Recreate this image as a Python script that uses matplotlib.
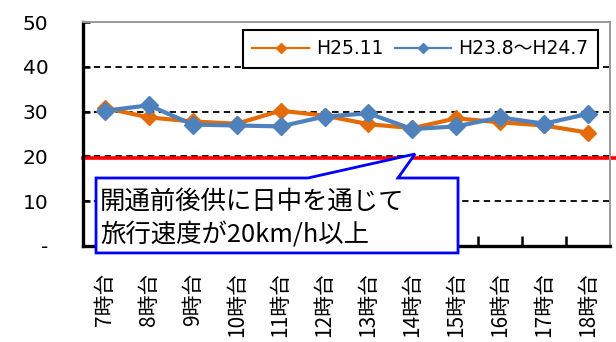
import matplotlib
matplotlib.use("Agg")
import matplotlib.pyplot as plt
from matplotlib.patches import Polygon
from matplotlib.lines import Line2D

# Travel speed (km/h) by hour of day
hours = ["7時台", "8時台", "9時台", "10時台", "11時台", "12時台",
         "13時台", "14時台", "15時台", "16時台", "17時台", "18時台"]
speed_h25 = [30.8, 28.7, 27.8, 27.3, 30.2, 29.1, 27.2, 26.3, 28.5, 27.6, 26.9, 25.3]
speed_h23_24 = [30.2, 31.4, 27.1, 26.9, 26.7, 28.9, 29.6, 26.1, 26.7, 28.7, 27.3, 29.5]
series_names = ["H25.11", "H23.8～H24.7"]
threshold = 19.6
y_ticks = [0, 10, 20, 30, 40, 50]
y_labels = ["-", "10", "20", "30", "40", "50"]
note_lines = ["開通前後供に日中を通じて", "旅行速度が20km/h以上"]

orange = "#E36C09"
blue = "#4F81BD"

fig = plt.figure(figsize=(6.16, 3.42), dpi=100)
ax = fig.add_axes([83 / 616, 1 - 246 / 342, 527 / 616, 224 / 342])

x = list(range(len(hours)))
ax.plot(x, speed_h25, color=orange, lw=3, marker="D", ms=8.5, zorder=3)
ax.plot(x, speed_h23_24, color=blue, lw=3, marker="D", ms=9.5, zorder=4)

ax.set_xlim(-0.5, len(hours) - 0.5)
ax.set_ylim(0, 50)

# gridlines
for v in y_ticks[1:-1]:
    ax.axhline(v, color="black", lw=1.3, ls=(0, (3.5, 2.5)), zorder=1)

# threshold line runs to the figure edge
ax.axhline(threshold, xmin=0, xmax=1.02, color="#FF0000", lw=2.6, zorder=2, clip_on=False)

# spines
for s in ["left", "bottom"]:
    ax.spines[s].set_linewidth(2.4)
    ax.spines[s].set_color("black")
for s in ["top", "right"]:
    ax.spines[s].set_linewidth(1.4)
    ax.spines[s].set_color("#9a9a9a")

ax.set_yticks(y_ticks)
ax.set_yticklabels(y_labels, fontsize=14.5, family="DejaVu Sans")
ax.tick_params(axis="y", direction="in", length=5, width=1.8, pad=25)

ax.set_xticks(x)
ax.set_xticklabels(hours, rotation=90, fontsize=15, family=["Noto Sans CJK JP", "DejaVu Sans"],
                   va="top", ha="center")
ax.tick_params(axis="x", which="major", length=0, pad=19)
ax.set_xticks([i + 0.5 for i in x[:-1]], minor=True)
ax.tick_params(axis="x", which="minor", direction="in", length=7, width=1.8)

# legend
handles = [Line2D([], [], color=orange, lw=1.6, marker="D", ms=5),
           Line2D([], [], color=blue, lw=1.6, marker="D", ms=5)]
leg = ax.legend(handles, series_names, loc="upper left", ncol=2,
                bbox_to_anchor=(243 / 616, 1 - 30 / 342), bbox_transform=fig.transFigure,
                prop={"family": ["DejaVu Sans", "Noto Sans CJK JP"], "size": 13.5},
                frameon=True, fancybox=False, edgecolor="black", framealpha=1,
                handlelength=3.0, handletextpad=0.4, columnspacing=0.6,
                borderpad=0.5, borderaxespad=0)
leg.get_frame().set_linewidth(1.5)
leg.set_zorder(6)

# callout box with wedge pointing at the threshold
callout = Polygon([(0.0247, -0.031), (0.0247, 0.3036), (0.427, 0.3036), (0.630, 0.4107),
                   (0.5977, 0.3036), (0.7116, 0.3036), (0.7116, -0.031)],
                  closed=True, transform=ax.transAxes, facecolor="white",
                  edgecolor="#0000FF", lw=2, zorder=7, clip_on=False)
ax.add_patch(callout)
ax.text(0.032, 0.198, note_lines[0], transform=ax.transAxes, fontsize=18.3,
        family=["Noto Sans CJK JP", "DejaVu Sans"], va="center", ha="left", zorder=8)
ax.text(0.032, 0.049, note_lines[1], transform=ax.transAxes, fontsize=18.3,
        family=["Noto Sans CJK JP", "DejaVu Sans"], va="center", ha="left", zorder=8)

fig.savefig("out.png", dpi=100)
